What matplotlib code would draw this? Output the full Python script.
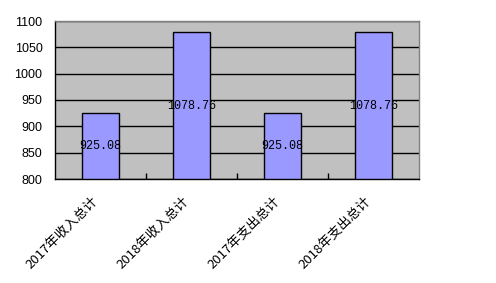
import matplotlib.pyplot as plt
import numpy as np

# Data
categories = ["2017年收入总计", "2018年收入总计", "2017年支出总计", "2018年支出总计"]
values = [925.08, 1078.76, 925.08, 1078.76]
yticks = [800, 850, 900, 950, 1000, 1050, 1100]

plt.rcParams['font.family'] = ['Liberation Sans', 'Noto Sans CJK SC', 'DejaVu Sans']

fig = plt.figure(figsize=(4.96, 2.83), dpi=100)
ax = fig.add_axes([55/496, 1 - 179/283, (419-55)/496, (179-21)/283])
ax.set_facecolor('#C0C0C0')

x = np.arange(len(categories))
ax.bar(x, [v - 800 for v in values], bottom=800, width=0.4,
       color='#9999FF', edgecolor='black', linewidth=1, zorder=3)

# value labels centred in bars
for xi, v in zip(x, values):
    ax.text(xi, (800 + v) / 2, "{0:.2f}".format(v), ha='center', va='center',
            fontsize=8.5, family=['Liberation Mono', 'DejaVu Sans Mono'], zorder=4)

ax.set_xlim(-0.5, len(categories) - 0.5)
ax.set_ylim(800, 1100)
ax.set_yticks(yticks)
ax.yaxis.grid(True, color='black', linewidth=1)
ax.set_axisbelow(True)
ax.tick_params(axis='y', length=0, labelsize=9, pad=9)

# category separator ticks pointing into the plot
ax.set_xticks(np.arange(0.5, len(categories) - 1, 1.0))
ax.set_xticklabels([])
ax.tick_params(axis='x', direction='in', length=4, width=1, color='black')
for xi, lab in zip(x, categories):
    ax.text(xi - 0.1, 771, lab, rotation=45, ha='right', va='top',
            rotation_mode='anchor', fontsize=9.5,
            family=['Noto Sans CJK SC', 'DejaVu Sans'],
            transform=ax.transData, clip_on=False)

for s in ['left', 'bottom']:
    ax.spines[s].set_color('black')
    ax.spines[s].set_linewidth(1)
for s in ['top', 'right']:
    ax.spines[s].set_color('#808080')
    ax.spines[s].set_linewidth(1)

plt.savefig("out.png", dpi=100)
